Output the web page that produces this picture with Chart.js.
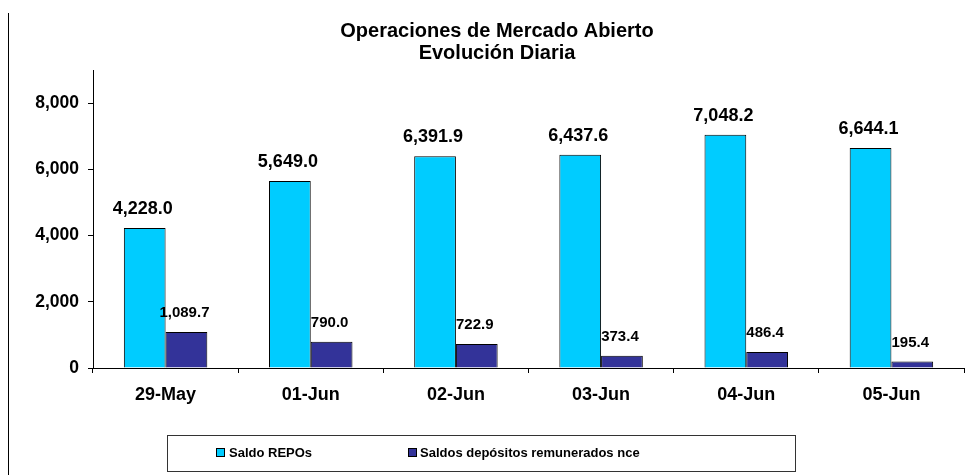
<!DOCTYPE html>
<html>
<head>
<meta charset="utf-8">
<script src="https://cdn.jsdelivr.net/npm/chart.js@4"></script>
<style>
  html, body { margin: 0; padding: 0; background: #fff; }
  #wrap { width: 973px; height: 475px; }
</style>
</head>
<body>
<div id="wrap"><canvas id="c" width="973" height="475"></canvas></div>
<script>
const categories = ['29-May', '01-Jun', '02-Jun', '03-Jun', '04-Jun', '05-Jun'];
const saldoRepos = [4228.0, 5649.0, 6391.9, 6437.6, 7048.2, 6644.1];
const saldosDepositos = [1089.7, 790.0, 722.9, 373.4, 486.4, 195.4];
const seriesNames = ['Saldo REPOs', 'Saldos depósitos remunerados nce'];
const titleLines = ['Operaciones de Mercado Abierto', 'Evolución Diaria'];
const yTicks = [0, 2000, 4000, 6000, 8000];

const FONT = '"Liberation Sans", Arial, sans-serif';
const colors = ['#00CCFF', '#333399'];

const fmt1 = v => v.toLocaleString('en-US', {minimumFractionDigits: 1, maximumFractionDigits: 1});

const labelsPlugin = {
  id: 'barLabels',
  afterDatasetsDraw(chart) {
    const ctx = chart.ctx;
    ctx.save();
    ctx.fillStyle = '#000';
    ctx.textAlign = 'center';
    ctx.textBaseline = 'middle';
    chart.data.datasets.forEach((ds, i) => {
      const meta = chart.getDatasetMeta(i);
      ctx.font = (i === 0 ? 'bold 18px ' : 'bold 15px ') + FONT;
      meta.data.forEach((bar, j) => {
        ctx.fillText(fmt1(ds.data[j]), bar.x - 2, bar.y - 19);
      });
    });
    ctx.restore();
  }
};

const decoPlugin = {
  id: 'deco',
  beforeDraw(chart) {
    const ctx = chart.ctx;
    ctx.save();
    ctx.fillStyle = '#fff';
    ctx.fillRect(0, 0, chart.width, chart.height);
    ctx.restore();
  },
  afterDraw(chart) {
    const ctx = chart.ctx;
    ctx.save();
    // left frame line
    ctx.strokeStyle = '#000';
    ctx.lineWidth = 1;
    ctx.beginPath();
    ctx.moveTo(8.5, 13);
    ctx.lineTo(8.5, chart.height);
    ctx.stroke();
    // legend box
    ctx.strokeStyle = '#333';
    ctx.strokeRect(167.5, 435.5, 628, 36);
    const items = [{sx: 216.5, tx: 229}, {sx: 408.5, tx: 420}];
    ctx.font = 'bold 13px ' + FONT;
    ctx.textBaseline = 'middle';
    ctx.textAlign = 'left';
    chart.data.datasets.forEach((ds, i) => {
      const it = items[i];
      ctx.fillStyle = ds.backgroundColor;
      ctx.fillRect(it.sx, 448.5, 8, 8);
      ctx.strokeStyle = '#000';
      ctx.strokeRect(it.sx, 448.5, 8, 8);
      ctx.fillStyle = '#000';
      ctx.fillText(ds.label, it.tx, 453);
    });
    ctx.restore();
  }
};

new Chart(document.getElementById('c'), {
  type: 'bar',
  data: {
    labels: categories,
    datasets: [
      { label: seriesNames[0], data: saldoRepos, backgroundColor: colors[0], borderColor: '#000', borderWidth: 1 },
      { label: seriesNames[1], data: saldosDepositos, backgroundColor: colors[1], borderColor: '#000', borderWidth: 1 }
    ]
  },
  options: {
    responsive: false,
    animation: false,
    devicePixelRatio: 1,
    layout: { padding: { top: 10, left: 30, right: 9, bottom: 67 } },
    datasets: { bar: { categoryPercentage: 0.575, barPercentage: 1.0 } },
    plugins: {
      legend: { display: false },
      tooltip: { enabled: false },
      title: {
        display: true,
        text: titleLines,
        color: '#000',
        font: { family: FONT, size: 20, weight: 'bold', lineHeight: 1.1 },
        padding: { top: 10.5, bottom: 5.5 }
      }
    },
    scales: {
      x: {
        grid: { display: true, drawOnChartArea: false, drawTicks: true, tickLength: 5, color: '#000', offset: true },
        border: { display: true, color: '#000', width: 1 },
        ticks: { color: '#000', font: { family: FONT, size: 18, weight: 'bold' }, padding: 11, maxRotation: 0 },
        afterFit(scale) { scale.height = 40; }
      },
      y: {
        min: 0,
        max: 9000,
        bounds: 'data',
        grid: { display: true, drawOnChartArea: false, drawTicks: true, tickLength: 5, color: '#000' },
        border: { display: true, color: '#000', width: 1 },
        ticks: {
          stepSize: 2000,
          includeBounds: false,
          color: '#000',
          padding: 9,
          font: { family: FONT, size: 17.5, weight: 'bold' },
          callback: v => v.toLocaleString('en-US')
        },
        afterBuildTicks(scale) { scale.ticks = yTicks.map(v => ({ value: v })); },
        afterFit(scale) { scale.width = 63; }
      }
    }
  },
  plugins: [decoPlugin, labelsPlugin]
});
</script>
</body>
</html>
